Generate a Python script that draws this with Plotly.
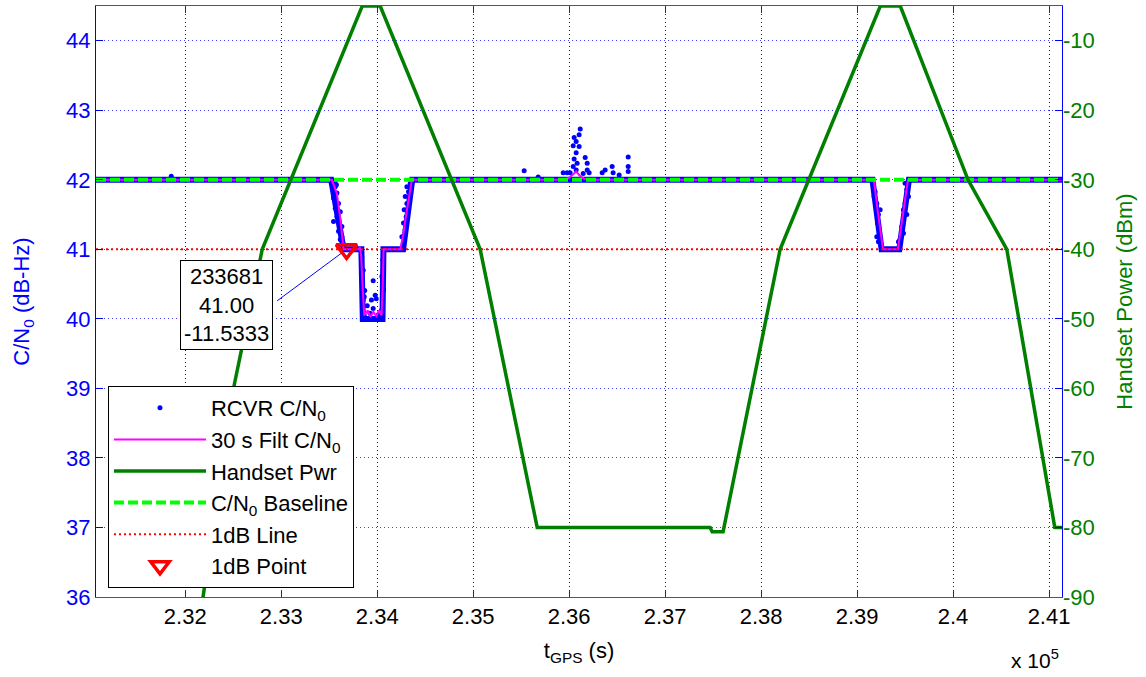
import plotly.graph_objects as go

# ---------------- data ----------------
X_RANGE = [231070, 241135]

# Handset power (dBm) breakpoints
hs_t = [232100, 232187, 232510, 232802, 233844, 234031, 235073, 235667, 237469, 237490,
        237604, 238198, 239242, 239450, 240156, 240560, 241060, 241135]
hs_p = [-98, -90, -59.5, -40, -5, -5, -40, -80, -80, -80.6,
        -80.6, -40, -5, -5, -30, -40, -80, -80]

# Receiver C/N0 dominant level (dense dots)
lvl_t = [231070, 233520, 233650, 233835, 233850, 234055, 234065, 234270, 234365,
         239160, 239255, 239440, 239540, 241135]
lvl_v = [42, 42, 41, 41, 40, 40, 41, 41, 42, 42, 41, 41, 42, 42]

# Receiver C/N0 scattered samples
rcv_t = [231854,
         233530, 233545, 233560, 233575,
         233528, 233563, 233580, 233545, 233597, 233563, 233615, 233545, 233580, 233632,
         233597, 233632, 233615, 233649,
         233840, 233854, 233847, 233865,
         233958, 233870, 233979, 233854, 233940, 233990, 233896, 233958, 233854, 233924,
         234049, 233865, 234010, 234030,
         234059, 234049, 234066,
         234274, 234257, 234292, 234274, 234302, 234281, 234309, 234292, 234326, 234309, 234344,
         235531, 235677,
         236115, 236104, 236052, 236073, 236104, 236042, 236073, 236052, 236083, 236167,
         236188, 236042, 236073, 236188, 236010, 235979, 235938, 236208, 236146, 236375,
         236344, 236448, 236458, 236521, 236615, 236615, 236615,
         239170, 239188, 239177, 239205, 239240, 239222, 239212, 239233, 239205, 239222, 239258,
         239500, 239518, 239535, 239500, 239483, 239518, 239483, 239466, 239483, 239448, 239431]
rcv_v = [42.05,
         41.97, 41.92, 41.97, 41.93,
         41.95, 41.90, 41.81, 41.74, 41.66, 41.59, 41.54, 41.40, 41.47, 41.33,
         41.26, 41.18, 41.14, 41.07,
         40.89, 40.70, 40.51, 40.32,
         40.55, 40.41, 40.34, 40.27, 40.27, 40.29, 40.19, 40.15, 40.10, 40.08,
         40.13, 40.05, 40.06, 40.10,
         40.85, 40.61, 40.42,
         41.09, 41.18, 41.28, 41.38, 41.47, 41.57, 41.66, 41.76, 41.83, 41.90, 41.95,
         42.13, 42.04,
         42.73, 42.65, 42.61, 42.55, 42.48, 42.49, 42.39, 42.30, 42.24, 42.32,
         42.24, 42.19, 42.14, 42.14, 42.10, 42.10, 42.10, 42.10, 42.09, 42.14,
         42.10, 42.19, 42.10, 42.07, 42.33, 42.19, 42.12,
         41.93, 41.83, 41.76, 41.66, 41.57, 41.50, 41.38, 41.28, 41.18, 41.11, 41.02,
         41.95, 41.86, 41.76, 41.66, 41.57, 41.50, 41.40, 41.33, 41.23, 41.14, 41.11]

# 30 s filtered C/N0
flt_t = [231070, 233528, 233580, 233615, 233649, 233802, 233820, 233833, 233850, 233865,
         233900, 233930, 233960, 233990, 234020, 234045, 234058, 234066, 234240, 234270,
         234302, 234335, 234361, 235950, 236000, 236042, 236073, 236110, 236150, 236200,
         239175, 239220, 239270, 239425, 239480, 239530, 241135]
flt_v = [42, 42, 41.8, 41.45, 41.0, 41.0, 41.03, 40.9, 40.4, 40.05,
         40.12, 40.03, 40.1, 40.04, 40.12, 40.05, 40.5, 41.0, 41.0, 41.2,
         41.5, 41.8, 42, 42, 42.03, 42.08, 42.12, 42.06, 42.02, 42,
         42, 41.5, 41.0, 41.0, 41.5, 42, 42]

baseline_v = 42
one_db_v = 41
pt_t = 233681
pt_v = 41.00
pt_pwr = -11.5333

y_ticks = [36, 37, 38, 39, 40, 41, 42, 43, 44]
y2_ticks = [-90, -80, -70, -60, -50, -40, -30, -20, -10]
y2_labels = ["-90", "-80", "-70", "-60", "-50", "-40", "-30", "-20", "-10"]
x_ticks = [232000, 233000, 234000, 235000, 236000, 237000, 238000, 239000, 240000, 241000]
x_labels = ["2.32", "2.33", "2.34", "2.35", "2.36", "2.37", "2.38", "2.39", "2.4", "2.41"]

# ---------------- styles ----------------
FONT = "Liberation Sans, Arial, sans-serif"
BLUE = "#0000FF"
DGREEN = "#007F00"
LGREEN = "#00FF00"
MAG = "#FF00FF"
RED = "#FF0000"

fig = go.Figure()

fig.add_trace(go.Scatter(x=lvl_t, y=lvl_v, mode="lines", line=dict(color=BLUE, width=6),
                         showlegend=False, hoverinfo="skip", legendgroup="rcvr"))
fig.add_trace(go.Scatter(x=rcv_t, y=rcv_v, mode="markers", name="RCVR C/N<sub>0</sub>",
                         marker=dict(color=BLUE, size=5), legendgroup="rcvr"))
fig.add_trace(go.Scatter(x=flt_t, y=flt_v, mode="lines", name="30 s Filt C/N<sub>0</sub>",
                         line=dict(color=MAG, width=2)))
fig.add_trace(go.Scatter(x=hs_t, y=hs_p, mode="lines", name="Handset Pwr", yaxis="y2",
                         line=dict(color=DGREEN, width=3.5)))
fig.add_trace(go.Scatter(x=X_RANGE, y=[baseline_v, baseline_v], mode="lines",
                         name="C/N<sub>0</sub> Baseline",
                         line=dict(color=LGREEN, width=4, dash="10px,4px")))
fig.add_trace(go.Scatter(x=X_RANGE, y=[one_db_v, one_db_v], mode="lines", name="1dB Line",
                         line=dict(color=RED, width=2, dash="2px,3px")))
fig.add_trace(go.Scatter(x=[pt_t], y=[pt_v], mode="markers", name="1dB Point",
                         marker=dict(symbol="triangle-down-open", size=18, color=RED,
                                     line=dict(color=RED, width=3.5))))

# connector line from data-tip box to point
fig.add_shape(type="line", xref="x", yref="y", x0=232958, y0=40.26, x1=pt_t, y1=pt_v,
              line=dict(color=BLUE, width=1), layer="below")

fig.add_annotation(xref="paper", yref="paper", x=0.1346, y=0.494, xanchor="center",
                   yanchor="middle", showarrow=False,
                   text=f"{pt_t}<br>{pt_v:.2f}<br>{pt_pwr}",
                   font=dict(family=FONT, size=22, color="black"),
                   bgcolor="white", bordercolor="black", borderwidth=1, borderpad=3)

fig.add_annotation(xref="paper", yref="paper", x=0.972, y=-0.105, xanchor="center",
                   yanchor="middle", showarrow=False, text="x 10<sup>5</sup>",
                   font=dict(family=FONT, size=21, color="black"))

fig.update_layout(
    width=1146, height=677,
    margin=dict(l=96, r=84, t=6, b=80),
    paper_bgcolor="white", plot_bgcolor="white",
    font=dict(family=FONT, size=22, color="black"),
    showlegend=True,
    legend=dict(x=0.0124, y=0.357, xanchor="left", yanchor="top",
                bgcolor="white", bordercolor="black", borderwidth=1,
                font=dict(family=FONT, size=22, color="black"),
                itemwidth=92, tracegroupgap=0),
    xaxis=dict(range=X_RANGE, tickvals=x_ticks, ticktext=x_labels,
               ticks="inside", ticklen=7, tickcolor="#333333",
               showline=True, linecolor="#555555", linewidth=1, mirror="ticks",
               showgrid=True, gridcolor="#222222", griddash="1px,3px", gridwidth=1,
               zeroline=False, tickfont=dict(size=22, color="black"),
               title=dict(text="t<sub>GPS</sub> (s)", standoff=14,
                          font=dict(size=22, color="black"))),
    yaxis=dict(range=[36, 44.5], tickvals=y_ticks, ticks="inside", ticklen=7,
               tickcolor=BLUE, showline=True, linecolor=BLUE, linewidth=1, mirror="ticks",
               showgrid=True, gridcolor="rgba(40,40,255,0.9)", griddash="1px,3px", gridwidth=1,
               zeroline=False, tickfont=dict(size=22, color=BLUE),
               title=dict(text="C/N<sub>0</sub> (dB-Hz)", standoff=30,
                          font=dict(size=22, color=BLUE))),
    yaxis2=dict(range=[-90, -5], tickvals=y2_ticks, ticktext=y2_labels,
                overlaying="y", side="right",
                showline=False, showgrid=False, zeroline=False, ticks="",
                tickfont=dict(size=22, color=DGREEN),
                title=dict(text="Handset Power (dBm)", standoff=22,
                           font=dict(size=22, color=DGREEN))),
)

fig.write_html("out.html", config={"displayModeBar": False},
               post_script="document.body.style.margin='0';")
